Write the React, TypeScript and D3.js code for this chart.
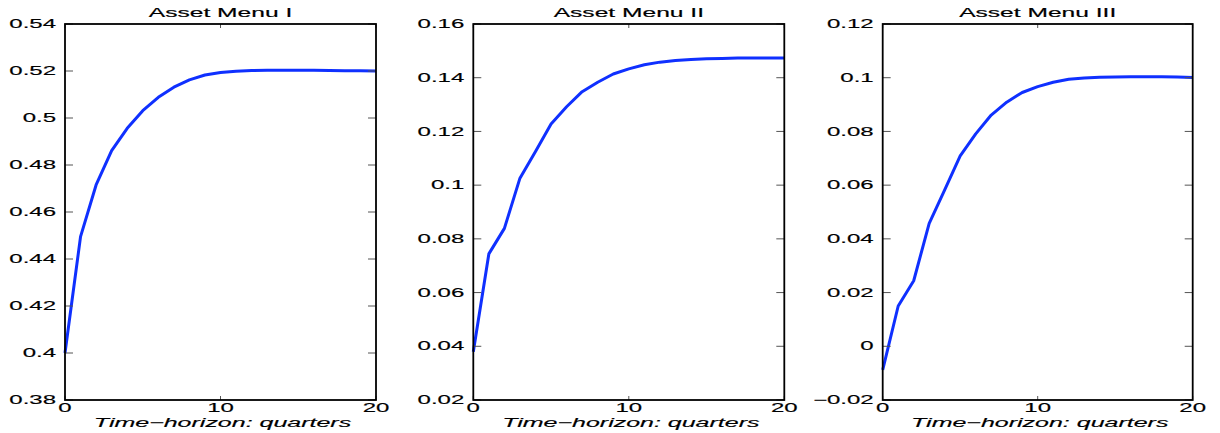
import React from "react";
import * as d3 from "d3";

const quarters = d3.range(0, 21);
const titles = ["Asset Menu I", "Asset Menu II", "Asset Menu III"];
const menu1 = [0.400, 0.4495, 0.4715, 0.4861, 0.4956, 0.5031, 0.5088, 0.5131, 0.5162, 0.5183, 0.5194, 0.5199, 0.5202, 0.5203, 0.5203, 0.5203, 0.5203, 0.5202, 0.5201, 0.5201, 0.5200];
const menu2 = [0.038, 0.0744, 0.0839, 0.1026, 0.1125, 0.1228, 0.1292, 0.1348, 0.1383, 0.1414, 0.1433, 0.1448, 0.1458, 0.1464, 0.1468, 0.1471, 0.1472, 0.1473, 0.1473, 0.1473, 0.1473];
const menu3 = [-0.0088, 0.015, 0.0244, 0.0458, 0.0582, 0.0709, 0.0791, 0.0861, 0.0909, 0.0945, 0.0967, 0.0983, 0.0994, 0.0999, 0.1002, 0.1003, 0.1004, 0.1004, 0.1004, 0.1003, 0.1001];
const yTicks1 = [0.38, 0.4, 0.42, 0.44, 0.46, 0.48, 0.5, 0.52, 0.54];
const yTickLabels1 = ["0.38", "0.4", "0.42", "0.44", "0.46", "0.48", "0.5", "0.52", "0.54"];
const yTicks2 = [0.02, 0.04, 0.06, 0.08, 0.1, 0.12, 0.14, 0.16];
const yTickLabels2 = ["0.02", "0.04", "0.06", "0.08", "0.1", "0.12", "0.14", "0.16"];
const yTicks3 = [-0.02, 0, 0.02, 0.04, 0.06, 0.08, 0.1, 0.12];
const yTickLabels3 = ["\u22120.02", "0", "0.02", "0.04", "0.06", "0.08", "0.1", "0.12"];
const xTicks = [0, 10, 20];
const xTickLabels = ["0", "10", "20"];
const xLabel = "Time\u2212horizon: quarters";

const panels = [
  { title: titles[0], data: menu1, yTicks: yTicks1, yLabels: yTickLabels1, left: 65, right: 376 },
  { title: titles[1], data: menu2, yTicks: yTicks2, yLabels: yTickLabels2, left: 473.3, right: 784.3 },
  { title: titles[2], data: menu3, yTicks: yTicks3, yLabels: yTickLabels3, left: 882.7, right: 1192.7 },
];

const TOP = 24;
const BOTTOM = 400;
const FONT = "'Liberation Sans', Arial, Helvetica, sans-serif";
const SX = 2.0;

function SText({ x, y, children, anchor = "middle", baseline = "auto", size = 12, italic = false, sx = SX }: any) {
  return (
    <g transform={`translate(${x},${y}) scale(${sx},1)`}>
      <text
        textAnchor={anchor}
        dominantBaseline={baseline}
        fontSize={size}
        fontFamily={FONT}
        fontStyle={italic ? "italic" : "normal"}
        fill="#000"
        stroke="#000"
        strokeWidth={0.15}
      >
        {children}
      </text>
    </g>
  );
}

function Panel({ p }: any) {
  const x = d3.scaleLinear().domain([0, 20]).range([p.left, p.right]);
  const y = d3
    .scaleLinear()
    .domain([p.yTicks[0], p.yTicks[p.yTicks.length - 1]])
    .range([BOTTOM, TOP]);
  const line = d3
    .line<number>()
    .x((_, i) => x(quarters[i]))
    .y((d) => y(d));
  const cx = (p.left + p.right) / 2;
  return (
    <g>
      <path d={line(p.data) || ""} fill="none" stroke="#0f30ff" strokeWidth={3} strokeLinejoin="round" />
      {p.yTicks.map((t: number, i: number) => (
        <g key={"yt" + i}>
          <line x1={p.left} x2={p.left + 8} y1={y(t)} y2={y(t)} stroke="#555" strokeWidth={1} />
          <line x1={p.right - 8} x2={p.right} y1={y(t)} y2={y(t)} stroke="#555" strokeWidth={1} />
          <SText x={p.left - 9} y={y(t)} anchor="end" baseline="central" size={12}>
            {p.yLabels[i]}
          </SText>
        </g>
      ))}
      {xTicks.map((t, i) => (
        <g key={"xt" + i}>
          <line x1={x(t)} x2={x(t)} y1={BOTTOM} y2={BOTTOM - 4} stroke="#555" strokeWidth={1} />
          <line x1={x(t)} x2={x(t)} y1={TOP} y2={TOP + 4} stroke="#555" strokeWidth={1} />
          <SText x={x(t)} y={BOTTOM + 12} anchor="middle" size={12}>
            {xTickLabels[i]}
          </SText>
        </g>
      ))}
      <rect x={p.left} y={TOP} width={p.right - p.left} height={BOTTOM - TOP} fill="none" stroke="#000" strokeWidth={1.8} />
      <SText x={cx} y={17} anchor="middle" size={12} sx={2.05}>
        {p.title}
      </SText>
      <SText x={cx + 2} y={427} anchor="middle" size={12.5} italic sx={2.0}>
        {xLabel}
      </SText>
    </g>
  );
}

export default function App() {
  return (
    <div style={{ position: "absolute", left: 0, top: 0 }}>
      <svg width={1220} height={433} style={{ display: "block", background: "#fff" }}>
        <rect x={0} y={0} width={1220} height={433} fill="#fff" />
        {panels.map((p, i) => (
          <Panel key={i} p={p} />
        ))}
      </svg>
    </div>
  );
}
